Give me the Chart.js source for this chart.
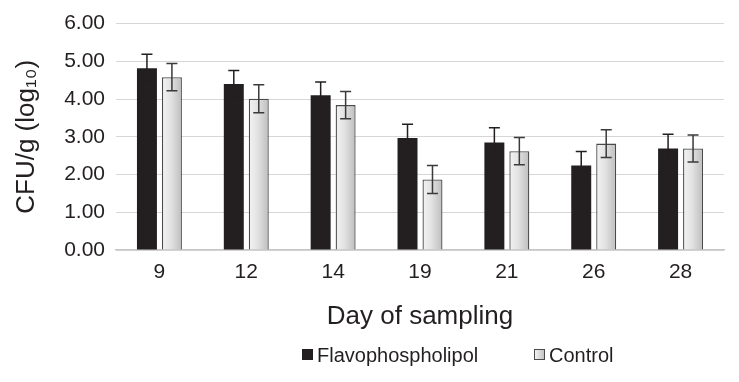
<!DOCTYPE html>
<html>
<head>
<meta charset="utf-8">
<script src="https://cdn.jsdelivr.net/npm/chart.js@4/dist/chart.umd.min.js"></script>
<style>
  html, body { margin: 0; padding: 0; background: #ffffff; }
  #wrap { position: relative; width: 739px; height: 382px; }
  #legend { position: absolute; left: 0; top: 0; width: 739px; height: 382px; pointer-events: none;
            font-family: "Liberation Sans", Arial, sans-serif; font-size: 20px; color: #231f20; }
  .lg-item { position: absolute; top: 343px; height: 24px; line-height: 24px; white-space: nowrap; }
  .lg-box { position: absolute; top: 6px; width: 11px; height: 11px; box-sizing: border-box; }
  .lg-text { position: absolute; left: 15px; top: 0; }
</style>
</head>
<body>
<div id="wrap">
  <canvas id="c" width="739" height="382"></canvas>
  <div id="legend">
    <div class="lg-item" style="left:302px;">
      <div class="lg-box" style="background:#231f20;"></div>
      <span class="lg-text">Flavophospholipol</span>
    </div>
    <div class="lg-item" style="left:534px;">
      <div class="lg-box" style="background:linear-gradient(to right,#f2f2f2,#c2c2c2);border:1px solid #4a4a4a;"></div>
      <span class="lg-text">Control</span>
    </div>
  </div>
</div>
<script>
const days = ['9', '12', '14', '19', '21', '26', '28'];
const flavophospholipol = [4.82, 4.40, 4.10, 2.97, 2.85, 2.24, 2.69];
const flavophospholipolErr = [0.37, 0.36, 0.35, 0.36, 0.39, 0.37, 0.38];
const control = [4.58, 4.01, 3.84, 1.87, 2.62, 2.82, 2.69];
const controlErr = [0.36, 0.37, 0.36, 0.37, 0.36, 0.37, 0.36];
const yTicks = [0, 1, 2, 3, 4, 5, 6];

const FONT = '"Liberation Sans", Arial, sans-serif';
const TXT = '#231f20';

const errorBarPlugin = {
  id: 'errorBars',
  afterDatasetsDraw(chart) {
    const ctx = chart.ctx;
    const ys = chart.scales.y;
    chart.data.datasets.forEach((ds, i) => {
      const meta = chart.getDatasetMeta(i);
      const errs = ds.errors || [];
      meta.data.forEach((el, j) => {
        const v = ds.data[j], e = errs[j];
        if (e == null) return;
        const x = el.x;
        const yt = ys.getPixelForValue(v + e);
        const yb = ys.getPixelForValue(v - e);
        ctx.save();
        ctx.strokeStyle = ds.errorColor;
        ctx.lineWidth = 1.5;
        ctx.beginPath();
        ctx.moveTo(x, yt); ctx.lineTo(x, yb);
        ctx.moveTo(x - 5.5, yt); ctx.lineTo(x + 5.5, yt);
        ctx.moveTo(x - 5.5, yb); ctx.lineTo(x + 5.5, yb);
        ctx.stroke();
        ctx.restore();
      });
    });
  }
};

const gradientPlugin = {
  id: 'barGradient',
  beforeDatasetDraw(chart, args) {
    const ds = chart.data.datasets[args.index];
    if (!ds.useGradient) return;
    const ctx = chart.ctx;
    args.meta.data.forEach(el => {
      const w = el.width;
      const g = ctx.createLinearGradient(el.x - w / 2, 0, el.x + w / 2, 0);
      g.addColorStop(0, '#f3f3f3');
      g.addColorStop(0.45, '#e2e2e2');
      g.addColorStop(1, '#bdbdbd');
      el.options = Object.assign({}, el.options, { backgroundColor: g });
    });
  }
};

new Chart(document.getElementById('c'), {
  type: 'bar',
  data: {
    labels: days,
    datasets: [
      {
        label: 'Flavophospholipol',
        data: flavophospholipol,
        errors: flavophospholipolErr,
        errorColor: '#231f20',
        backgroundColor: '#231f20',
        borderWidth: 0,
        categoryPercentage: 0.575,
        barPercentage: 0.8
      },
      {
        label: 'Control',
        data: control,
        errors: controlErr,
        errorColor: '#3a3a3a',
        useGradient: true,
        backgroundColor: (c) => '#d9d9d9',
        borderColor: '#4a4a4a',
        borderWidth: 1.3,
        categoryPercentage: 0.575,
        barPercentage: 0.8
      }
    ]
  },
  options: {
    responsive: false,
    animation: false,
    devicePixelRatio: 1,
    layout: { padding: { left: 0, right: 15, top: 22, bottom: 0 } },
    plugins: {
      legend: { display: false },
      tooltip: { enabled: false }
    },
    scales: {
      x: {
        grid: { display: false, drawTicks: false },
        border: { display: true, color: '#c6c6c6', width: 1.2 },
        ticks: { color: TXT, font: { family: FONT, size: 21 }, padding: 10 },
        title: {
          display: true, text: 'Day of sampling', color: TXT,
          font: { family: FONT, size: 26 }, padding: { top: 0, bottom: 50 }
        },
        afterFit(scale) { scale.height = 132; }
      },
      y: {
        min: 0, max: 6,
        afterBuildTicks(scale) { scale.ticks = yTicks.map(v => ({ value: v })); },
        grid: { color: '#d6d6d6', lineWidth: 1, drawTicks: false },
        border: { display: false },
        ticks: {
          color: TXT, font: { family: FONT, size: 21 }, padding: 11,
          callback: v => Number(v).toFixed(2)
        },
        title: {
          display: true, text: 'CFU/g (log\u2081\u2080)', color: TXT,
          font: { family: FONT, size: 26 }, padding: { top: 11, bottom: 0 }
        },
        afterFit(scale) { scale.width = 116; }
      }
    }
  },
  plugins: [gradientPlugin, errorBarPlugin]
});
</script>
</body>
</html>
